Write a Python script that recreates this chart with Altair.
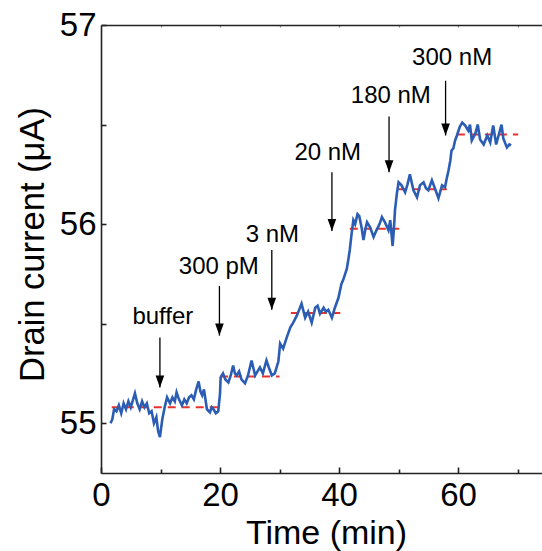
import altair as alt
import pandas as pd

# ---- trace (time in min, drain current in uA) ----
time_min = [1.6, 1.9, 2.2, 2.6, 3.0, 3.4, 3.8, 4.2, 4.6, 5.0, 5.4, 5.7, 6.1, 6.5, 6.9, 7.3, 7.7,
            8.1, 8.5, 8.9, 9.3, 9.6, 9.9, 10.3, 10.7, 11.1, 11.6, 12.0, 12.4, 12.7, 13.1, 13.6,
            14.0, 14.4, 14.8, 15.2, 15.6, 16.0, 16.4, 16.7, 17.0, 17.3, 17.8, 18.3, 18.6, 18.9,
            19.3, 19.7, 20.0, 20.1, 20.5, 20.9, 21.4, 21.8, 22.2, 22.5, 22.8, 23.2, 23.6, 24.2,
            24.7, 25.3, 25.9, 26.3, 26.7, 27.2, 27.8, 28.2, 28.7, 29.2, 29.8, 30.1, 30.6, 31.2,
            31.8, 32.3, 32.9, 33.3, 33.7, 34.3, 34.8, 35.4, 36.0, 36.4, 36.8, 37.4, 37.8, 38.2,
            38.8, 39.3, 39.9, 40.4, 40.7, 41.3, 41.6, 41.8, 42.1, 42.4, 42.7, 43.1, 43.4, 43.8,
            44.1, 44.4, 44.7, 45.2, 45.8, 46.3, 46.8, 47.2, 47.7, 48.0, 48.3, 48.6, 49.0, 49.2,
            49.4, 49.7, 50.0, 50.5, 51.1, 51.5, 51.9, 52.5, 53.1, 53.6, 54.2, 54.6, 55.0, 55.6,
            56.1, 56.7, 57.3, 57.8, 58.1, 58.4, 58.7, 58.9, 59.2, 59.5, 59.8, 60.3, 60.7, 61.2,
            61.7, 62.0, 62.3, 62.9, 63.3, 63.7, 64.3, 64.9, 65.4, 65.9, 66.4, 66.8, 67.3, 67.6,
            68.2, 68.6, 68.9]
current_uA = [55.00, 55.02, 55.07, 55.06, 55.09, 55.05, 55.10, 55.07, 55.11, 55.08, 55.12, 55.15,
              55.10, 55.07, 55.11, 55.08, 55.10, 55.05, 55.06, 55.00, 55.03, 54.96, 54.93, 55.02,
              55.08, 55.13, 55.10, 55.13, 55.11, 55.155, 55.12, 55.09, 55.12, 55.10, 55.13, 55.14,
              55.12, 55.17, 55.21, 55.16, 55.14, 55.17, 55.07, 55.055, 55.08, 55.07, 55.05, 55.06,
              55.15, 55.23, 55.25, 55.22, 55.205, 55.24, 55.29, 55.25, 55.24, 55.26, 55.22, 55.20,
              55.24, 55.315, 55.24, 55.26, 55.28, 55.25, 55.315, 55.28, 55.24, 55.25, 55.31, 55.40,
              55.375, 55.43, 55.48, 55.505, 55.54, 55.57, 55.60, 55.53, 55.56, 55.505, 55.58, 55.59,
              55.55, 55.58, 55.56, 55.57, 55.53, 55.58, 55.63, 55.70, 55.72, 55.775, 55.83, 55.87,
              55.95, 56.02, 56.00, 56.05, 56.04, 55.98, 55.92, 55.97, 56.01, 55.985, 55.935, 55.97,
              56.00, 56.035, 56.01, 55.99, 55.97, 56.02, 55.89, 55.97, 56.07, 56.15, 56.21, 56.195,
              56.16, 56.20, 56.25, 56.17, 56.135, 56.195, 56.21, 56.18, 56.17, 56.22, 56.18, 56.13,
              56.195, 56.185, 56.23, 56.27, 56.32, 56.37, 56.38, 56.42, 56.445, 56.49, 56.51, 56.495,
              56.47, 56.50, 56.42, 56.455, 56.50, 56.425, 56.40, 56.445, 56.41, 56.495, 56.40, 56.445,
              56.50, 56.43, 56.385, 56.40, 56.395]

# ---- red dashed mean levels ----
level_start = [1.8, 20.0, 31.9, 41.8, 50.0, 59.8]
level_end = [19.8, 30.0, 40.2, 50.1, 58.1, 70.1]
level_value = [55.08, 55.235, 55.553, 55.977, 56.175, 56.45]

# ---- injection annotations ----
ann_label = ["buffer", "300 pM", "3 nM", "20 nM", "180 nM", "300 nM"]
ann_t_arrow = [9.9, 19.9, 28.7, 38.8, 48.4, 57.9]
ann_y_top = [55.43, 55.69, 55.87, 56.26, 56.54, 56.72]
ann_y_tip = [55.18, 55.44, 55.57, 55.965, 56.26, 56.445]
ann_t_text = [10.4, 19.8, 28.8, 38.1, 48.7, 59.0]
ann_y_text = [55.50, 55.75, 55.91, 56.32, 56.61, 56.80]

W, H = 441, 448
FONT = "Liberation Sans"

trace = pd.DataFrame({"t": time_min, "i": current_uA})
levels = pd.DataFrame({"t0": level_start, "t1": level_end, "v": level_value})
ann = pd.DataFrame({"label": ann_label, "ta": ann_t_arrow, "ytop": ann_y_top,
                    "ytip": ann_y_tip, "tt": ann_t_text, "yt": ann_y_text})

xs = alt.Scale(domain=[0, 74.1], nice=False, zero=False)
ys = alt.Scale(domain=[54.75, 57], nice=False, zero=False)

line = alt.Chart(trace).mark_line(color="#2a5db3", strokeWidth=2.6).encode(
    x=alt.X("t:Q", scale=xs, axis=alt.Axis(
        orient="bottom", values=[0, 20, 40, 60], format="d", labelFontSize=33, labelFont=FONT,
        labelColor="black", labelPadding=6, labelFlush=False, ticks=False, tickSize=0,
        domain=True, domainColor="#222222", domainWidth=1.6, grid=False, title="Time (min)",
        titleFont=FONT, titleFontSize=34, titleFontWeight="normal", titleColor="black",
        titleX=225, titleY=70, titleAlign="center", titleBaseline="alphabetic")),
    y=alt.Y("i:Q", scale=ys, axis=alt.Axis(
        orient="left", values=[55, 56, 57], format="d", labelFontSize=33, labelFont=FONT,
        labelColor="black", labelPadding=5, labelFlush=False, ticks=False, tickSize=0,
        domain=True, domainColor="#222222", domainWidth=1.6, grid=False,
        title="Drain current (μA)", titleFont=FONT, titleFontSize=34.5,
        titleFontWeight="normal", titleColor="black", titleX=-58, titleY=H / 2 - 5,
        titleAngle=270, titleAlign="center", titleBaseline="alphabetic")),
)

red = alt.Chart(levels).mark_rule(color="#e8322c", strokeWidth=2, strokeDash=[8, 6]).encode(
    x=alt.X("t0:Q", scale=xs, axis=alt.Axis(
        orient="top", offset=-H, values=[0, 20, 40, 60], labels=False, domain=False,
        ticks=True, tickSize=6, tickWidth=1.6, tickColor="#222222", grid=False, title="")),
    x2="t1:Q",
    y=alt.Y("v:Q", scale=ys, axis=alt.Axis(
        orient="right", offset=-W, values=[55, 55.5, 56, 56.5, 57], labels=False,
        domain=False, ticks=True, tickSize=5, tickWidth=1.6, tickColor="#222222",
        grid=False, title="")),
)

shafts = alt.Chart(ann).mark_rule(color="black", strokeWidth=1.3).encode(
    x=alt.X("ta:Q", scale=xs, axis=alt.Axis(
        orient="top", offset=-H, values=[10, 30, 50, 70], labels=False, domain=False,
        ticks=True, tickSize=4, tickWidth=1.6, tickColor="#222222", grid=False, title="")),
    y=alt.Y("ytop:Q", scale=ys, axis=None),
    y2="ytip:Q",
)

heads = alt.Chart(ann).mark_point(
    shape="M-0.36,-1L0.36,-1L0,0Z", size=576, filled=True, color="black", opacity=1
).encode(
    x=alt.X("ta:Q", scale=xs, axis=alt.Axis(
        orient="bottom", offset=-H, values=[10, 20, 30, 40, 50, 60, 70], labels=False,
        domain=True, domainColor="#222222", domainWidth=1.6, ticks=True, tickSize=2,
        tickWidth=1.2, tickColor="#888888", grid=False, title="")),
    y=alt.Y("ytip:Q", scale=ys, axis=None),
)

texts = alt.Chart(ann).mark_text(
    font=FONT, fontSize=24, color="black", align="center", baseline="alphabetic"
).encode(
    x=alt.X("tt:Q", scale=xs, axis=None),
    y=alt.Y("yt:Q", scale=ys, axis=None),
    text="label:N",
)

chart = alt.layer(red, line, shafts, heads, texts).resolve_axis(
    x="independent", y="independent"
).properties(
    width=W, height=H,
    autosize=alt.AutoSizeParams(type="none"),
    padding={"left": 101, "top": 25, "right": 0, "bottom": 78},
).configure_view(stroke=None).configure(background="white")

chart.save("out.html", embed_options={"renderer": "svg", "actions": False})
